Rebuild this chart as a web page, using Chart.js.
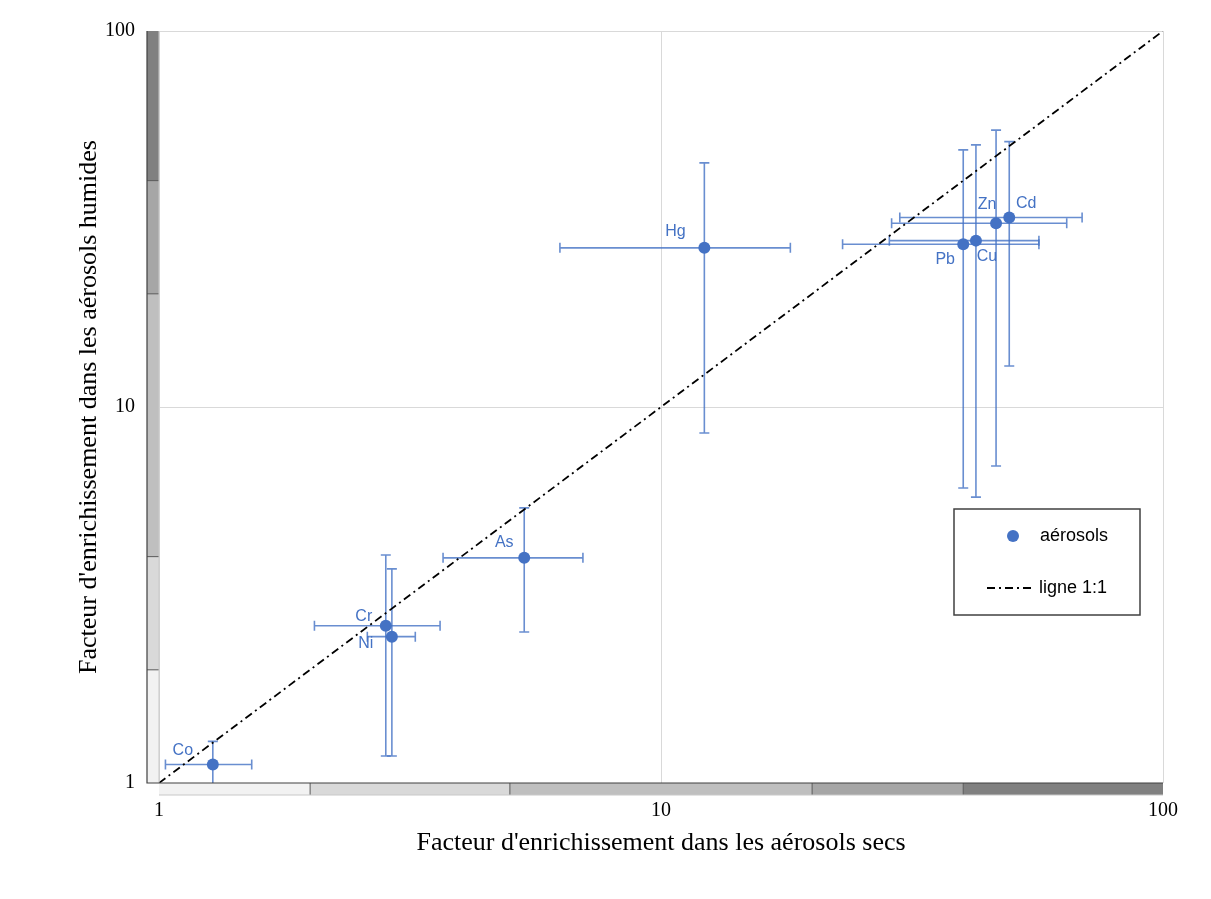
<!DOCTYPE html>
<html>
<head>
<meta charset="utf-8">
<script src="https://cdn.jsdelivr.net/npm/chart.js@4.4.1/dist/chart.umd.min.js"></script>
<style>
  html, body { margin: 0; padding: 0; background: #fff; }
  canvas { display: block; }
</style>
</head>
<body>
<canvas id="efChart" width="1211" height="899"></canvas>
<script>
// values (log-log, enrichment factors)
const elements  = ["Co", "Cr", "Ni", "As", "Hg", "Pb", "Cu", "Zn", "Cd"];
const dryEF     = [1.28, 2.83, 2.91, 5.34, 12.2, 40.0, 42.4, 46.5, 49.4];
const dryLow    = [1.03, 2.04, 2.60, 3.68, 6.29, 23.0, 28.5, 28.8, 29.9];
const dryHigh   = [1.53, 3.63, 3.24, 6.99, 18.1, 56.6, 56.6, 64.3, 69.0];
const wetEF     = [1.12, 2.62, 2.45, 3.97, 26.5, 27.1, 27.7, 30.8, 31.9];
const wetLow    = [0.90, 1.18, 1.18, 2.52, 8.53, 6.09, 5.76, 6.97, 12.85];
const wetHigh   = [1.29, 4.04, 3.71, 5.39, 44.6, 48.3, 49.8, 54.5, 50.8];
const oneToOne  = [1, 100];
const tickValues = [1, 10, 100];
const xBandEdges = [1, 2, 5, 20, 40, 100];
const yBandEdges = [1, 2, 4, 20, 40, 100];

// styling
const BLUE = "#4472C4";
const BAR_BLUE = "rgba(68,114,196,0.8)";
const bandColors = ["#f2f2f2", "#d9d9d9", "#bfbfbf", "#a6a6a6", "#808080"];
const labelOffsets = [[-30, -14], [-22, -9], [-26, 7], [-20, -15], [-29, -16],
                      [-18, 15], [11, 16], [-9, -19], [17, -14]];
const DASH = [8, 4, 2, 4];
const SANS = '"Liberation Sans", Arial, sans-serif';
const SERIF = '"Liberation Serif", "Times New Roman", serif';

const points = elements.map((el, i) => ({ x: dryEF[i], y: wetEF[i] }));

const bandsPlugin = {
    id: "bands",
    afterDraw(chart) {
        const { ctx, chartArea: a, scales: { x, y } } = chart;
        const w = 12;
        ctx.save();
        ctx.strokeStyle = "#595959";
        ctx.lineWidth = 1;
        for (let i = 0; i < xBandEdges.length - 1; i++) {
            const x0 = x.getPixelForValue(xBandEdges[i]);
            const x1 = x.getPixelForValue(xBandEdges[i + 1]);
            ctx.fillStyle = bandColors[i];
            ctx.fillRect(x0, a.bottom, x1 - x0, w);
            if (i > 0) {
                ctx.beginPath(); ctx.moveTo(x0, a.bottom); ctx.lineTo(x0, a.bottom + w); ctx.stroke();
            }
        }
        for (let i = 0; i < yBandEdges.length - 1; i++) {
            const y0 = y.getPixelForValue(yBandEdges[i]);
            const y1 = y.getPixelForValue(yBandEdges[i + 1]);
            ctx.fillStyle = bandColors[i];
            ctx.fillRect(a.left - w, y1, w, y0 - y1);
            if (i > 0) {
                ctx.beginPath(); ctx.moveTo(a.left - w, y0); ctx.lineTo(a.left, y0); ctx.stroke();
            }
        }
        ctx.strokeStyle = "#c8c8c8";
        ctx.beginPath();
        ctx.moveTo(a.left, a.bottom + w); ctx.lineTo(a.right, a.bottom + w);
        ctx.moveTo(a.left, a.top); ctx.lineTo(a.left, a.bottom);
        ctx.stroke();
        ctx.strokeStyle = "#404040";
        ctx.lineWidth = 1.2;
        ctx.beginPath();
        ctx.moveTo(a.left - w, a.top);
        ctx.lineTo(a.left - w, a.bottom);
        ctx.lineTo(a.right, a.bottom);
        ctx.stroke();
        ctx.restore();
    }
};

const errorBarPlugin = {
    id: "errorBars",
    beforeDatasetsDraw(chart) {
        const { ctx, chartArea: a, scales: { x, y } } = chart;
        const cap = 5;
        ctx.save();
        ctx.beginPath();
        ctx.rect(a.left, a.top, a.right - a.left, a.bottom - a.top);
        ctx.clip();
        ctx.strokeStyle = BAR_BLUE;
        ctx.lineWidth = 1.6;
        elements.forEach((el, i) => {
            const px = x.getPixelForValue(dryEF[i]);
            const py = y.getPixelForValue(wetEF[i]);
            const xl = x.getPixelForValue(dryLow[i]);
            const xh = x.getPixelForValue(dryHigh[i]);
            const yl = y.getPixelForValue(wetLow[i]);
            const yh = y.getPixelForValue(wetHigh[i]);
            ctx.beginPath();
            ctx.moveTo(xl, py); ctx.lineTo(xh, py);
            ctx.moveTo(xl, py - cap); ctx.lineTo(xl, py + cap);
            ctx.moveTo(xh, py - cap); ctx.lineTo(xh, py + cap);
            ctx.moveTo(px, yl); ctx.lineTo(px, yh);
            ctx.moveTo(px - cap, yl); ctx.lineTo(px + cap, yl);
            ctx.moveTo(px - cap, yh); ctx.lineTo(px + cap, yh);
            ctx.stroke();
        });
        ctx.restore();
    },
    afterDatasetsDraw(chart) {
        const { ctx, scales: { x, y } } = chart;
        ctx.save();
        ctx.fillStyle = BLUE;
        ctx.font = "16px " + SANS;
        ctx.textAlign = "center";
        ctx.textBaseline = "middle";
        elements.forEach((el, i) => {
            const px = x.getPixelForValue(dryEF[i]);
            const py = y.getPixelForValue(wetEF[i]);
            ctx.fillText(el, px + labelOffsets[i][0], py + labelOffsets[i][1]);
        });
        ctx.restore();
    }
};

const legendBoxPlugin = {
    id: "legendBox",
    afterDraw(chart) {
        const ctx = chart.ctx;
        ctx.save();
        ctx.fillStyle = "#fff";
        ctx.fillRect(954, 509, 186, 106);
        ctx.strokeStyle = "#404040";
        ctx.lineWidth = 1.5;
        ctx.strokeRect(954, 509, 186, 106);
        ctx.fillStyle = BLUE;
        ctx.beginPath();
        ctx.arc(1013, 536, 6, 0, Math.PI * 2);
        ctx.fill();
        ctx.strokeStyle = "#000";
        ctx.lineWidth = 1.8;
        ctx.setLineDash(DASH);
        ctx.beginPath();
        ctx.moveTo(987, 588); ctx.lineTo(1035, 588);
        ctx.stroke();
        ctx.setLineDash([]);
        ctx.fillStyle = "#000";
        ctx.font = "18px " + SANS;
        ctx.textBaseline = "middle";
        ctx.fillText("aérosols", 1040, 536);
        ctx.fillText("ligne 1:1", 1039, 588);
        ctx.restore();
    }
};

function fixTicks(scale) {
    scale.ticks = tickValues.map(v => ({ value: v }));
}

const ctx = document.getElementById("efChart").getContext("2d");
new Chart(ctx, {
    type: "scatter",
    data: {
        datasets: [
            {
                label: "aérosols",
                data: points,
                pointRadius: 6,
                pointHoverRadius: 6,
                backgroundColor: BLUE,
                borderWidth: 0
            },
            {
                type: "line",
                label: "ligne 1:1",
                data: oneToOne.map(v => ({ x: v, y: v })),
                borderColor: "#000",
                borderWidth: 1.8,
                borderDash: DASH,
                pointRadius: 0,
                fill: false
            }
        ]
    },
    options: {
        responsive: false,
        animation: false,
        layout: { padding: { top: 31, right: 48, left: 0, bottom: 0 } },
        plugins: {
            legend: { display: false },
            tooltip: { enabled: false }
        },
        scales: {
            x: {
                type: "logarithmic",
                min: 1,
                max: 100,
                afterBuildTicks: fixTicks,
                afterFit: s => { s.height = 116; s.paddingLeft = 0; s.paddingRight = 0; },
                grid: { color: "#d9d9d9", drawTicks: false },
                border: { display: false },
                ticks: {
                    padding: 16,
                    color: "#000",
                    font: { family: SERIF, size: 20 },
                    callback: v => String(v),
                    maxRotation: 0
                },
                title: {
                    display: true,
                    text: "Facteur d'enrichissement dans les aérosols secs",
                    color: "#000",
                    font: { family: SERIF, size: 26 },
                    padding: { top: 0, bottom: 40 }
                }
            },
            y: {
                type: "logarithmic",
                min: 1,
                max: 100,
                afterBuildTicks: fixTicks,
                afterFit: s => { s.width = 159; s.paddingTop = 0; s.paddingBottom = 0; },
                grid: { color: "#d9d9d9", drawTicks: false },
                border: { display: false },
                ticks: {
                    padding: 24,
                    color: "#000",
                    font: { family: SERIF, size: 20 },
                    callback: v => String(v)
                },
                title: {
                    display: true,
                    text: "Facteur d'enrichissement dans les aérosols humides",
                    color: "#000",
                    font: { family: SERIF, size: 26 },
                    padding: { top: 74, bottom: 0 }
                }
            }
        }
    },
    plugins: [bandsPlugin, errorBarPlugin, legendBoxPlugin]
});
</script>
</body>
</html>
